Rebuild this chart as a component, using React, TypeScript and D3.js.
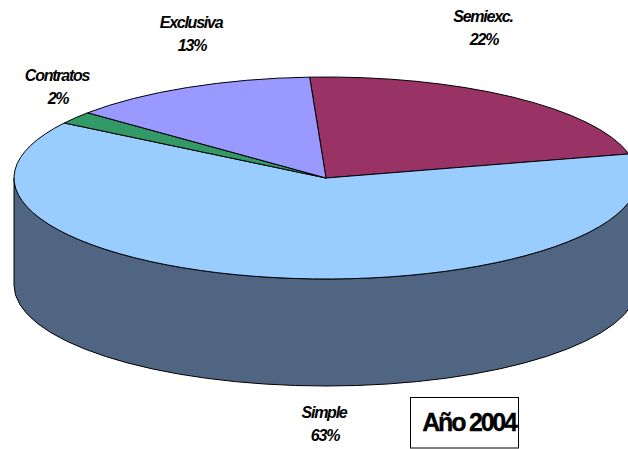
import React from "react";
import * as d3 from "d3";

const categories = ["Semiexc.", "Simple", "Contratos", "Exclusiva"];
const values = [22, 63, 2, 13];
const colors = ["#993366", "#99CCFF", "#339966", "#9999FF"];
const labelX = [483, 324, 57, 191];
const labelY = [22, 418, 81, 28];
const wallColor = "#4F6581";
const titleText = "Año 2004";

const W = 628, H = 449;
const cx = 326, cy = 178, rx = 312, ry = 101, depth = 107;
const startAngle = (-3 * Math.PI) / 180;

const pie = d3.pie<number>().sort(null).startAngle(startAngle).endAngle(startAngle + 2 * Math.PI);
const px = (a: number) => cx + rx * Math.sin(a);
const py = (a: number) => cy - ry * Math.cos(a);

function slicePath(a0: number, a1: number) {
  const large = a1 - a0 > Math.PI ? 1 : 0;
  return `M${cx},${cy}L${px(a0)},${py(a0)}A${rx},${ry} 0 ${large} 1 ${px(a1)},${py(a1)}Z`;
}
function wallPath() {
  const a0 = Math.PI / 2, a1 = (3 * Math.PI) / 2;
  return `M${px(a0)},${py(a0)}A${rx},${ry} 0 0 1 ${px(a1)},${py(a1)}L${px(a1)},${py(a1) + depth}A${rx},${ry} 0 0 0 ${px(a0)},${py(a0) + depth}Z`;
}

export default function App() {
  const arcs = pie(values);
  const font = "'Liberation Sans', Arial, sans-serif";
  return (
    <svg width={W} height={H} viewBox={`0 0 ${W} ${H}`} style={{ position: "absolute", left: 0, top: 0, background: "#fff" }}>
      <path d={wallPath()} fill={wallColor} stroke="#000" strokeWidth={1} />
      {arcs.map((d, i) => (
        <path key={categories[i]} d={slicePath(d.startAngle, d.endAngle)} fill={colors[i]} stroke="#000" strokeWidth={1} />
      ))}
      {categories.map((c, i) => (
        <text key={c} textAnchor="middle" fontFamily={font} fontStyle="italic" fontWeight="bold" fontSize={16} letterSpacing={-1.25} fill="#000">
          <tspan x={labelX[i]} y={labelY[i]}>{c}</tspan>
          <tspan x={labelX[i] + 1} y={labelY[i] + 23}>{values[i]}%</tspan>
        </text>
      ))}
      <rect x={410.5} y={397.5} width={108} height={50.5} fill="#fff" stroke="#000" strokeWidth={1} />
      <text x={469} y={431} textAnchor="middle" fontFamily={font} fontWeight="bold" fontSize={25} letterSpacing={-2.2} stroke="#000" strokeWidth={0.3} fill="#000">{titleText}</text>
    </svg>
  );
}
